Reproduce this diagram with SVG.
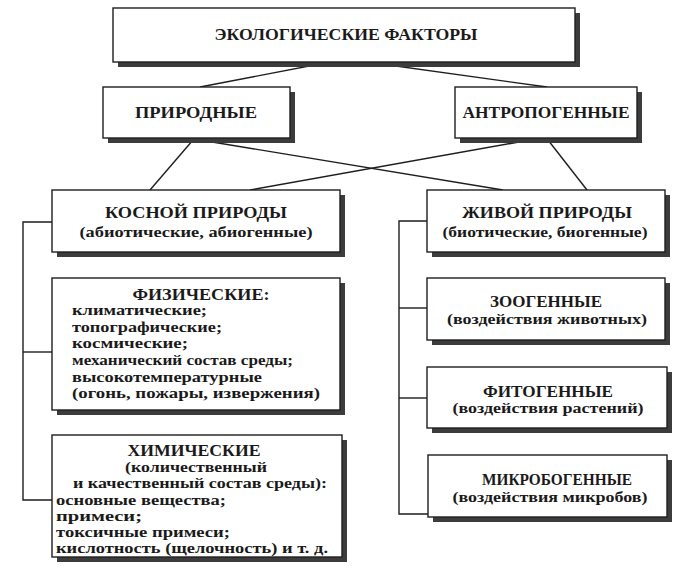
<svg xmlns="http://www.w3.org/2000/svg" width="684" height="576" viewBox="0 0 684 576">
<style>
.bg{fill:#fff}
.sh{fill:#3c3c3c}
.bx{fill:#fff;stroke:#1e1e1e;stroke-width:1.4}
.ln{stroke:#1e1e1e;stroke-width:1.4;fill:none}
text{font-family:"Liberation Serif","DejaVu Serif",serif;font-weight:bold;fill:#1a1a1a}
.h{font-size:16.5px}
.s{font-size:15px}
.c{text-anchor:middle}
</style>
<rect class="bg" width="684" height="576"/>
<g id="connectors">
<line class="ln" x1="330" y1="62" x2="200" y2="87"/>
<line class="ln" x1="367" y1="62" x2="547" y2="87"/>
<line class="ln" x1="193" y1="140" x2="150" y2="190"/>
<line class="ln" x1="200" y1="140" x2="503" y2="190"/>
<line class="ln" x1="530" y1="140" x2="250" y2="190"/>
<line class="ln" x1="548" y1="140" x2="587" y2="190"/>
<polyline class="ln" points="52,222 23,222 23,500 52,500"/>
<line class="ln" x1="23" y1="352" x2="52" y2="352"/>
<polyline class="ln" points="427,221 399,221 399,514 428,514"/>
<line class="ln" x1="399" y1="308" x2="427" y2="308"/>
<line class="ln" x1="399" y1="398" x2="427" y2="398"/>
</g>
<g id="ecological">
<rect class="sh" x="118" y="13" width="462" height="54"/>
<rect class="bx" x="113" y="8" width="462" height="54"/>
<text class="h c" x="346" y="40" textLength="263" lengthAdjust="spacingAndGlyphs">ЭКОЛОГИЧЕСКИЕ ФАКТОРЫ</text>
</g>
<g id="natural">
<rect class="sh" x="108" y="92" width="187" height="51"/>
<rect class="bx" x="103" y="87" width="187" height="51"/>
<text class="h c" x="196" y="118" textLength="122" lengthAdjust="spacingAndGlyphs">ПРИРОДНЫЕ</text>
</g>
<g id="anthropogenic">
<rect class="sh" x="460" y="92" width="182" height="51"/>
<rect class="bx" x="455" y="87" width="182" height="51"/>
<text class="h c" x="546" y="118" textLength="167" lengthAdjust="spacingAndGlyphs">АНТРОПОГЕННЫЕ</text>
</g>
<g id="inert">
<rect class="sh" x="57" y="195" width="288" height="62"/>
<rect class="bx" x="52" y="190" width="288" height="62"/>
<text class="h c" x="196" y="218" textLength="182" lengthAdjust="spacingAndGlyphs">КОСНОЙ ПРИРОДЫ</text>
<text class="s c" x="196" y="237" textLength="233" lengthAdjust="spacingAndGlyphs">(абиотические, абиогенные)</text>
</g>
<g id="physical">
<rect class="sh" x="57" y="283" width="288" height="132"/>
<rect class="bx" x="52" y="278" width="288" height="132"/>
<text class="h c" x="201" y="300" textLength="137" lengthAdjust="spacingAndGlyphs">ФИЗИЧЕСКИЕ:</text>
<text class="s" x="72" y="315" textLength="135" lengthAdjust="spacingAndGlyphs">климатические;</text>
<text class="s" x="72" y="332" textLength="150" lengthAdjust="spacingAndGlyphs">топографические;</text>
<text class="s" x="72" y="348" textLength="116" lengthAdjust="spacingAndGlyphs">космические;</text>
<text class="s" x="72" y="365" textLength="221" lengthAdjust="spacingAndGlyphs">механический состав среды;</text>
<text class="s" x="72" y="382" textLength="190" lengthAdjust="spacingAndGlyphs">высокотемпературные</text>
<text class="s" x="72" y="398" textLength="248" lengthAdjust="spacingAndGlyphs">(огонь, пожары, извержения)</text>
</g>
<g id="chemical">
<rect class="sh" x="57" y="440" width="290" height="122"/>
<rect class="bx" x="52" y="435" width="290" height="122"/>
<text class="h c" x="194" y="456" textLength="133" lengthAdjust="spacingAndGlyphs">ХИМИЧЕСКИЕ</text>
<text class="s c" x="196" y="472" textLength="142" lengthAdjust="spacingAndGlyphs">(количественный</text>
<text class="s c" x="200" y="488" textLength="254" lengthAdjust="spacingAndGlyphs">и качественный состав среды):</text>
<text class="s" x="56" y="505" textLength="170" lengthAdjust="spacingAndGlyphs">основные вещества;</text>
<text class="s" x="56" y="521" textLength="86" lengthAdjust="spacingAndGlyphs">примеси;</text>
<text class="s" x="56" y="537" textLength="174" lengthAdjust="spacingAndGlyphs">токсичные примеси;</text>
<text class="s" x="56" y="553" textLength="272" lengthAdjust="spacingAndGlyphs">кислотность (щелочность) и т. д.</text>
</g>
<g id="living">
<rect class="sh" x="432" y="195" width="238" height="62"/>
<rect class="bx" x="427" y="190" width="238" height="62"/>
<text class="h c" x="547" y="218" textLength="170" lengthAdjust="spacingAndGlyphs">ЖИВОЙ ПРИРОДЫ</text>
<text class="s c" x="545" y="237" textLength="205" lengthAdjust="spacingAndGlyphs">(биотические, биогенные)</text>
</g>
<g id="zoogenic">
<rect class="sh" x="432" y="283" width="238" height="62"/>
<rect class="bx" x="427" y="278" width="238" height="62"/>
<text class="h c" x="546" y="307" textLength="112" lengthAdjust="spacingAndGlyphs">ЗООГЕННЫЕ</text>
<text class="s c" x="547" y="324" textLength="200" lengthAdjust="spacingAndGlyphs">(воздействия животных)</text>
</g>
<g id="phytogenic">
<rect class="sh" x="432" y="372" width="240" height="61"/>
<rect class="bx" x="427" y="367" width="240" height="61"/>
<text class="h c" x="548" y="397" textLength="130" lengthAdjust="spacingAndGlyphs">ФИТОГЕННЫЕ</text>
<text class="s c" x="548" y="413" textLength="191" lengthAdjust="spacingAndGlyphs">(воздействия растений)</text>
</g>
<g id="microbogenic">
<rect class="sh" x="433" y="460" width="239" height="62"/>
<rect class="bx" x="428" y="455" width="239" height="62"/>
<text class="h c" x="557" y="485" textLength="150" lengthAdjust="spacingAndGlyphs">МИКРОБОГЕННЫЕ</text>
<text class="s c" x="550" y="502" textLength="195" lengthAdjust="spacingAndGlyphs">(воздействия микробов)</text>
</g>
</svg>
